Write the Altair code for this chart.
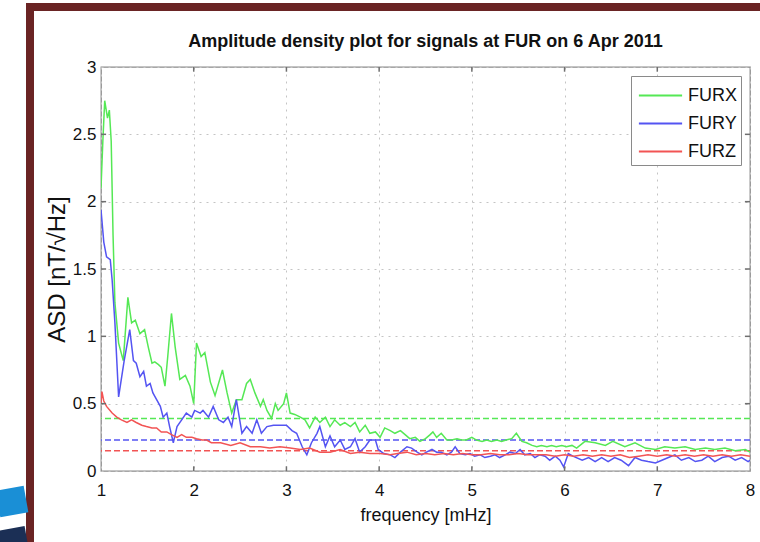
import altair as alt
import pandas as pd

# ---------------- data ----------------
series = ["FURX", "FURY", "FURZ"]
colors = ["#55e855", "#5454f2", "#f25454"]
mean_levels = [0.39, 0.23, 0.15]
x_ticks = [1, 2, 3, 4, 5, 6, 7, 8]
y_ticks = [0, 0.5, 1, 1.5, 2, 2.5, 3]
chart_title = "Amplitude density plot for signals at FUR on 6 Apr 2011"

freq_x = [1.00, 1.02, 1.04, 1.07, 1.09, 1.11, 1.13, 1.15, 1.19, 1.24, 1.27, 1.29, 1.33, 1.37,
          1.42, 1.47, 1.51, 1.55, 1.58, 1.62, 1.65, 1.69, 1.72, 1.76, 1.80, 1.85, 1.91, 1.96,
          2.00, 2.03, 2.08, 2.12, 2.18, 2.23, 2.31, 2.36, 2.41, 2.46, 2.52, 2.57, 2.61, 2.66,
          2.72, 2.75, 2.79, 2.84, 2.88, 2.91, 2.97, 3.00, 3.04, 3.09, 3.15, 3.20, 3.25, 3.31,
          3.36, 3.42, 3.47, 3.52, 3.58, 3.63, 3.69, 3.74, 3.79, 3.85, 3.90, 3.96, 4.01, 4.06,
          4.12, 4.17, 4.23, 4.28, 4.33, 4.39, 4.44, 4.50, 4.55, 4.58, 4.62, 4.67, 4.73, 4.78,
          4.84, 4.89, 4.94, 5.00, 5.05, 5.11, 5.16, 5.21, 5.27, 5.32, 5.37, 5.43, 5.48, 5.54,
          5.59, 5.65, 5.70, 5.75, 5.81, 5.86, 5.91, 5.97, 6.02, 6.08, 6.13, 6.22, 6.33, 6.44,
          6.52, 6.65, 6.76, 6.87, 6.98, 7.08, 7.19, 7.30, 7.41, 7.52, 7.62, 7.73, 7.84, 7.95, 8.00]
asd_x = [2.10, 2.45, 2.75, 2.62, 2.68, 2.45, 1.75, 1.25, 0.95, 0.82, 1.10, 1.29, 1.10, 1.12,
         1.02, 1.05, 0.92, 0.80, 0.81, 0.79, 0.77, 0.63, 0.85, 1.17, 0.92, 0.68, 0.71, 0.63,
         0.50, 0.95, 0.85, 0.88, 0.66, 0.56, 0.75, 0.58, 0.43, 0.53, 0.53, 0.65, 0.68, 0.58,
         0.48, 0.53, 0.45, 0.39, 0.50, 0.45, 0.50, 0.58, 0.43, 0.42, 0.40, 0.38, 0.32, 0.40,
         0.36, 0.40, 0.33, 0.38, 0.34, 0.36, 0.33, 0.36, 0.29, 0.34, 0.28, 0.29, 0.25, 0.32,
         0.30, 0.28, 0.30, 0.27, 0.24, 0.25, 0.22, 0.24, 0.27, 0.29, 0.25, 0.28, 0.23, 0.23,
         0.24, 0.23, 0.23, 0.25, 0.23, 0.22, 0.23, 0.22, 0.23, 0.22, 0.23, 0.24, 0.28, 0.22,
         0.21, 0.19, 0.18, 0.19, 0.18, 0.19, 0.18, 0.19, 0.18, 0.19, 0.17, 0.22, 0.21, 0.19,
         0.22, 0.18, 0.21, 0.17, 0.16, 0.18, 0.17, 0.18, 0.16, 0.17, 0.16, 0.17, 0.15, 0.16, 0.14]

freq_y = [1.00, 1.03, 1.06, 1.10, 1.12, 1.15, 1.19, 1.25, 1.31, 1.35, 1.38, 1.42, 1.46, 1.49,
          1.53, 1.56, 1.60, 1.64, 1.67, 1.71, 1.74, 1.78, 1.82, 1.87, 1.92, 1.98, 2.01, 2.07,
          2.10, 2.16, 2.21, 2.27, 2.32, 2.37, 2.41, 2.46, 2.52, 2.57, 2.63, 2.68, 2.73, 2.79,
          2.86, 2.93, 3.00, 3.06, 3.11, 3.17, 3.22, 3.27, 3.33, 3.36, 3.42, 3.47, 3.52, 3.58,
          3.63, 3.69, 3.74, 3.79, 3.85, 3.90, 3.96, 3.99, 4.05, 4.12, 4.17, 4.23, 4.30, 4.35,
          4.41, 4.46, 4.51, 4.57, 4.62, 4.67, 4.73, 4.78, 4.82, 4.87, 4.93, 4.98, 5.03, 5.09,
          5.14, 5.20, 5.25, 5.30, 5.36, 5.41, 5.47, 5.52, 5.57, 5.63, 5.68, 5.73, 5.79, 5.84,
          5.90, 5.95, 5.99, 6.04, 6.09, 6.19, 6.26, 6.33, 6.40, 6.47, 6.54, 6.61, 6.69, 6.76,
          6.83, 6.90, 6.98, 7.05, 7.12, 7.19, 7.26, 7.34, 7.41, 7.48, 7.55, 7.62, 7.70, 7.77,
          7.84, 7.91, 7.98, 8.00]
asd_y = [1.94, 1.70, 1.59, 1.57, 1.42, 1.10, 0.55, 0.82, 1.05, 0.82, 0.80, 0.70, 0.74, 0.63,
         0.65, 0.58, 0.53, 0.48, 0.40, 0.43, 0.33, 0.21, 0.33, 0.38, 0.43, 0.40, 0.45, 0.43,
         0.45, 0.40, 0.48, 0.38, 0.36, 0.40, 0.33, 0.53, 0.28, 0.33, 0.28, 0.38, 0.28, 0.33,
         0.34, 0.34, 0.34, 0.30, 0.28, 0.18, 0.12, 0.21, 0.28, 0.33, 0.18, 0.26, 0.18, 0.23,
         0.16, 0.18, 0.24, 0.14, 0.18, 0.23, 0.23, 0.16, 0.13, 0.12, 0.10, 0.14, 0.18, 0.17,
         0.14, 0.12, 0.14, 0.16, 0.14, 0.14, 0.12, 0.14, 0.18, 0.13, 0.12, 0.13, 0.11, 0.12,
         0.10, 0.11, 0.12, 0.10, 0.12, 0.14, 0.13, 0.16, 0.12, 0.13, 0.10, 0.12, 0.11, 0.08,
         0.11, 0.08, 0.03, 0.13, 0.11, 0.08, 0.10, 0.07, 0.10, 0.07, 0.10, 0.08, 0.04, 0.10,
         0.08, 0.07, 0.06, 0.08, 0.10, 0.12, 0.08, 0.10, 0.07, 0.08, 0.11, 0.07, 0.10, 0.11,
         0.08, 0.10, 0.07, 0.08]

freq_z = [1.00, 1.01, 1.03, 1.06, 1.12, 1.17, 1.22, 1.28, 1.33, 1.38, 1.44, 1.49, 1.55, 1.60,
          1.65, 1.71, 1.76, 1.82, 1.87, 1.92, 1.98, 2.03, 2.09, 2.14, 2.19, 2.29, 2.40, 2.50,
          2.61, 2.72, 2.82, 2.93, 3.04, 3.15, 3.25, 3.36, 3.47, 3.58, 3.69, 3.79, 3.90, 4.01,
          4.12, 4.20, 4.30, 4.40, 4.50, 4.60, 4.70, 4.80, 4.90, 5.00, 5.10, 5.20, 5.30, 5.40,
          5.50, 5.60, 5.70, 5.80, 5.90, 6.00, 6.10, 6.20, 6.30, 6.40, 6.50, 6.60, 6.70, 6.80,
          6.90, 7.00, 7.10, 7.20, 7.30, 7.40, 7.50, 7.60, 7.70, 7.80, 7.90, 8.00]
asd_z = [0.50, 0.59, 0.52, 0.48, 0.43, 0.40, 0.38, 0.36, 0.38, 0.36, 0.34, 0.33, 0.32, 0.32,
         0.29, 0.29, 0.27, 0.25, 0.27, 0.25, 0.25, 0.24, 0.23, 0.23, 0.21, 0.21, 0.19, 0.21,
         0.18, 0.18, 0.17, 0.18, 0.17, 0.16, 0.17, 0.14, 0.14, 0.16, 0.13, 0.14, 0.13, 0.13,
         0.12, 0.13, 0.14, 0.12, 0.13, 0.12, 0.13, 0.12, 0.13, 0.12, 0.12, 0.13, 0.12, 0.12,
         0.13, 0.12, 0.12, 0.12, 0.11, 0.12, 0.11, 0.12, 0.11, 0.12, 0.11, 0.12, 0.10, 0.11,
         0.12, 0.11, 0.12, 0.11, 0.12, 0.11, 0.12, 0.11, 0.12, 0.11, 0.12, 0.11]

# ---------------- tables ----------------
rows = []
for name, fr, vals in zip(series, [freq_x, freq_y, freq_z], [asd_x, asd_y, asd_z]):
    rows += [{"series": name, "freq": f, "asd": v} for f, v in zip(fr, vals)]
df = pd.DataFrame(rows)
mean_df = pd.DataFrame({"series": series, "level": mean_levels})

TLX = 0.055   # inward tick length in x data units
TLY = 0.035   # inward tick length in y data units
tick_rows = []
for t in x_ticks[1:-1]:
    tick_rows.append({"x": t, "x2": t, "y": y_ticks[0], "y2": y_ticks[0] + TLY})
    tick_rows.append({"x": t, "x2": t, "y": y_ticks[-1], "y2": y_ticks[-1] - TLY})
for t in y_ticks[1:-1]:
    tick_rows.append({"x": x_ticks[0], "x2": x_ticks[0] + TLX, "y": t, "y2": t})
    tick_rows.append({"x": x_ticks[-1], "x2": x_ticks[-1] - TLX, "y": t, "y2": t})
ticks_df = pd.DataFrame(tick_rows)

FONT = "Liberation Sans"
xscale = alt.Scale(domain=[x_ticks[0], x_ticks[-1]], nice=False, zero=False)
yscale = alt.Scale(domain=[y_ticks[0], y_ticks[-1]], nice=False)

color = alt.Color(
    "series:N",
    scale=alt.Scale(domain=series, range=colors),
    legend=alt.Legend(
        title=None, orient="none", legendX=530, legendY=9,
        strokeColor="#8a8a8a", fillColor="white", padding=4,
        symbolType="M-1.5,0H1.5", symbolSize=830, symbolStrokeWidth=2,
        symbolOffset=10,
        labelFontSize=18, labelFont=FONT, labelColor="#111111",
        rowPadding=3, labelOffset=12,
    ),
)

xaxis = alt.Axis(values=x_ticks, format="~g", labelFlush=False, title="frequency [mHz]",
                 labelPadding=11, titleFontSize=18, titlePadding=8)
yaxis = alt.Axis(values=y_ticks, format="~g", labelFlush=False, title="ASD [nT/\u221aHz]",
                 labelPadding=5, titleFontSize=24, titlePadding=3)

base_layer = alt.Chart(df).mark_line(strokeWidth=1.5, clip=True).encode(
    x=alt.X("freq:Q", scale=xscale, axis=xaxis),
    y=alt.Y("asd:Q", scale=yscale, axis=yaxis),
    color=color,
)

means = alt.Chart(mean_df).mark_rule(strokeDash=[6, 3], strokeWidth=1.5).encode(
    y=alt.Y("level:Q", scale=yscale),
    color=color,
)

inner_ticks = alt.Chart(ticks_df).mark_rule(color="#6f6f6f", strokeWidth=1.5).encode(
    x=alt.X("x:Q", scale=xscale), x2="x2:Q",
    y=alt.Y("y:Q", scale=yscale), y2="y2:Q",
)

# decorative slide frame and logo swoosh (page decoration, not data)
FRAME_TOP = -60
FRAME_W = 8
deco = pd.DataFrame({"k": [0]})
frame = alt.Chart(deco).mark_rect(filled=False, stroke="#6a2424", strokeWidth=FRAME_W).encode(
    x=alt.value(-71), x2=alt.value(700), y=alt.value(FRAME_TOP), y2=alt.value(520)
)
swoosh1 = alt.Chart(deco).mark_rule(color="#1a8fd6", strokeWidth=27).encode(
    x=alt.value(-103), x2=alt.value(-75), y=alt.value(437), y2=alt.value(432)
)
swoosh2 = alt.Chart(deco).mark_rule(color="#1b2f55", strokeWidth=16).encode(
    x=alt.value(-103), x2=alt.value(-75), y=alt.value(472), y2=alt.value(467)
)

# the title is laid out above the content bounds (which include the frame); shift it back
title_dy = -(FRAME_TOP - FRAME_W / 2)

chart = alt.layer(frame, swoosh1, swoosh2, means, base_layer, inner_ticks).properties(
    width=649, height=404,
    title=alt.TitleParams(chart_title, fontSize=18, fontWeight="bold", font=FONT,
                          color="#111111", anchor="middle", offset=16, frame="group",
                          dy=title_dy),
    autosize=alt.AutoSizeParams(type="none"),
    padding={"left": 101, "top": 67, "right": 10, "bottom": 71},
    background="white",
).configure_view(
    stroke="#8a8a8a", strokeWidth=1.3
).configure_axis(
    domain=False, ticks=False, grid=True, gridColor="#c4c4c4", gridDash=[2, 5],
    gridWidth=1, labelFontSize=17, labelFont=FONT, labelColor="#111111",
    titleFont=FONT, titleFontWeight="normal", titleColor="#111111",
)

chart.save("out.html", embed_options={"renderer": "svg", "actions": False})
